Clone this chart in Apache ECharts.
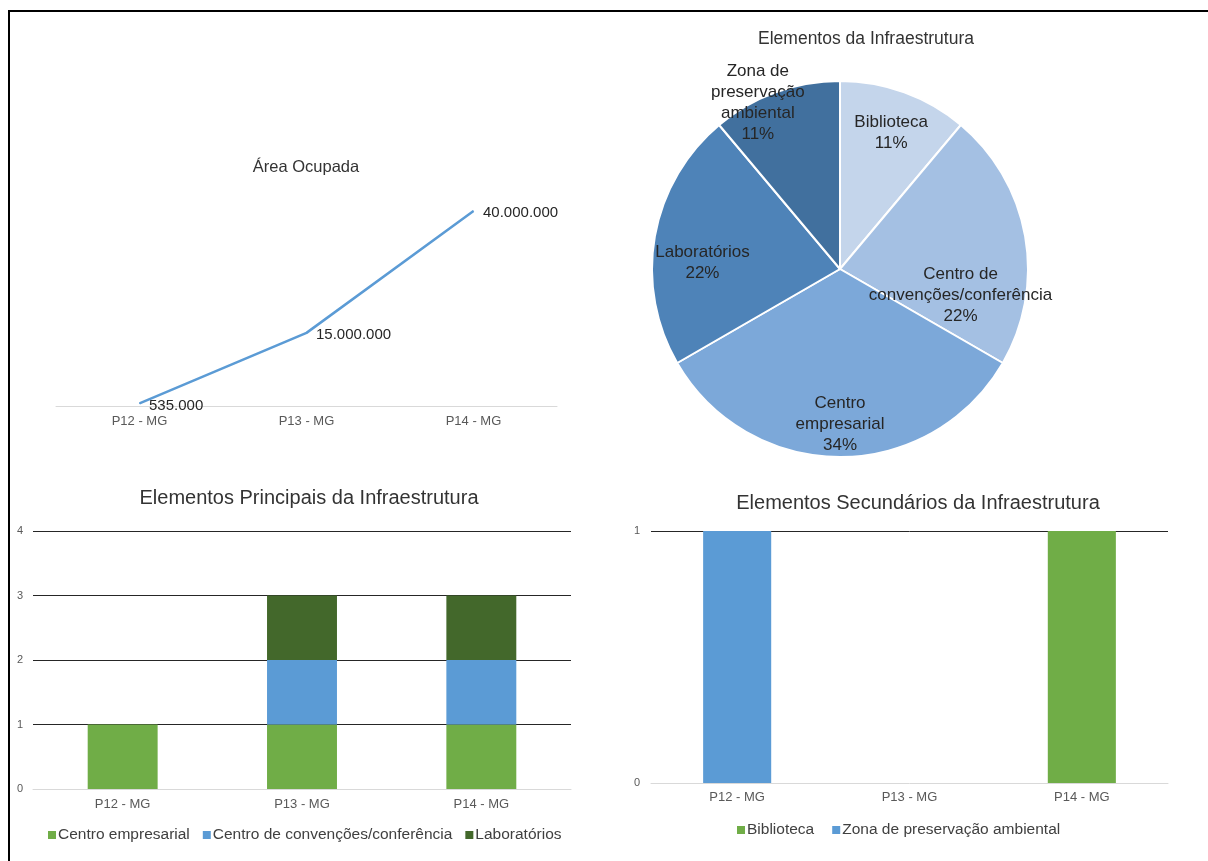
<!DOCTYPE html>
<html>
<head>
<meta charset="utf-8">
<script src="https://cdn.jsdelivr.net/npm/echarts@6/dist/echarts.min.js"></script>
<style>
  html, body { margin: 0; padding: 0; background: #fff; overflow: hidden; }
  #frame { position: absolute; left: 8px; top: 10px; width: 1400px; height: 1000px; border: 2px solid #000; box-sizing: border-box; }
  #chart { position: absolute; left: 0; top: 0; width: 1208px; height: 861px; }
</style>
</head>
<body>
<div id="frame"></div>
<div id="chart"></div>
<script>
// ---- data ----
const categories = ['P12 - MG', 'P13 - MG', 'P14 - MG'];
const areaValues = [535000, 15000000, 40000000];

const pieNames = ['Biblioteca', 'Centro de convenções/conferência', 'Centro empresarial', 'Laboratórios', 'Zona de preservação ambiental'];
const pieLabelNames = ['Biblioteca', 'Centro de\nconvenções/conferência', 'Centro\nempresarial', 'Laboratórios', 'Zona de\npreservação\nambiental'];
const pieValues = [1, 2, 3, 2, 1];

const mainSeriesNames = ['Centro empresarial', 'Centro de convenções/conferência', 'Laboratórios'];
const mainCentroEmpresarial = [1, 1, 1];
const mainConvencoes = [0, 1, 1];
const mainLaboratorios = [0, 1, 1];

const secSeriesNames = ['Biblioteca', 'Zona de preservação ambiental'];
const secBiblioteca = [0, 0, 1];
const secZona = [1, 0, 0];

// ---- styles ----
const FONT = 'Liberation Sans, Arial, sans-serif';
const pieColors = ['#C4D5EB', '#A4C0E3', '#7CA8D9', '#4E83B8', '#41709E'];
const mainColors = ['#70AD47', '#5B9BD5', '#43682B'];
const secColors = ['#70AD47', '#5B9BD5'];
const pieLabelOffsets = [[18, -45], [25, 43], [0, 58], [-42, 11], [-49, -75]];

function fmtDots(v) { return String(v).replace(/\B(?=(\d{3})+(?!\d))/g, '.'); }

const chart = echarts.init(document.getElementById('chart'), null, { renderer: 'canvas' });

const titleStyle = (size) => ({ fontFamily: FONT, fontSize: size, fontWeight: 'normal', color: '#333' });

const catAxis = (gridIndex, margin) => ({
  type: 'category', gridIndex, data: categories, boundaryGap: true,
  axisLine: { show: true, lineStyle: { color: '#D9D9D9', width: 1 } },
  axisTick: { show: false },
  axisLabel: { fontFamily: FONT, fontSize: 13, color: '#595959', margin }
});

const legendText = { fontFamily: FONT, fontSize: 15.5, color: '#404040', padding: [0, 0, 0, -3] };

const option = {
  animation: false,
  textStyle: { fontFamily: FONT },
  title: [
    { text: 'Área Ocupada', left: 301, top: 154, textAlign: 'center', textStyle: titleStyle(16.5) },
    { text: 'Elementos da Infraestrutura', left: 861, top: 25, textAlign: 'center', textStyle: titleStyle(17.5) },
    { text: 'Elementos Principais da Infraestrutura', left: 304, top: 483, textAlign: 'center', textStyle: titleStyle(20) },
    { text: 'Elementos Secundários da Infraestrutura', left: 913, top: 488, textAlign: 'center', textStyle: titleStyle(20) }
  ],
  legend: [
    { data: mainSeriesNames, left: 43, top: 822, icon: 'rect', itemWidth: 8, itemHeight: 8, itemGap: 13, textStyle: legendText },
    { data: secSeriesNames, left: 732, top: 817, icon: 'rect', itemWidth: 8, itemHeight: 8, itemGap: 18, textStyle: legendText }
  ],
  grid: [
    { left: 56, top: 211, width: 501, height: 195 },
    { left: 33, top: 531, width: 538, height: 258 },
    { left: 651, top: 531, width: 517, height: 252 }
  ],
  xAxis: [catAxis(0, 9), catAxis(1, 9), catAxis(2, 8)],
  yAxis: [
    { type: 'value', gridIndex: 0, min: 0, max: 40000000, show: false },
    {
      type: 'value', gridIndex: 1, min: 0, max: 4, interval: 1,
      axisLine: { show: false }, axisTick: { show: false },
      axisLabel: { fontFamily: FONT, fontSize: 11, color: '#595959', margin: 10 },
      splitLine: { show: true, showMinLine: false, lineStyle: { color: '#262626', width: 1 } }
    },
    {
      type: 'value', gridIndex: 2, min: 0, max: 1, interval: 1,
      axisLine: { show: false }, axisTick: { show: false },
      axisLabel: { fontFamily: FONT, fontSize: 11, color: '#595959', margin: 11 },
      splitLine: { show: true, showMinLine: false, lineStyle: { color: '#262626', width: 1 } }
    }
  ],
  series: [
    {
      type: 'line', name: 'Área Ocupada', xAxisIndex: 0, yAxisIndex: 0, data: areaValues,
      symbol: 'circle', symbolSize: 1, showSymbol: true,
      lineStyle: { color: '#5B9BD5', width: 2.5 }, itemStyle: { color: '#5B9BD5' },
      label: { show: true, position: 'right', distance: 9, offset: [0, 2], fontFamily: FONT, fontSize: 15, color: '#262626',
        formatter: p => fmtDots(p.value) }
    },
    {
      type: 'pie', name: 'Elementos da Infraestrutura', center: [840, 269], radius: 188,
      startAngle: 90, clockwise: true, percentPrecision: 0,
      data: pieNames.map((n, i) => ({ name: n, value: pieValues[i], itemStyle: { color: pieColors[i] } })),
      itemStyle: { borderColor: '#fff', borderWidth: 2 },
      label: {
        show: true, position: 'inside', fontFamily: FONT, fontSize: 17, lineHeight: 21, color: '#262626',
        formatter: p => pieLabelNames[p.dataIndex] + '\n' + p.percent + '%'
      },
      labelLine: { show: false },
      labelLayout: p => ({ dx: pieLabelOffsets[p.dataIndex][0], dy: pieLabelOffsets[p.dataIndex][1] }),
      emphasis: { disabled: true }
    },
    { type: 'bar', name: mainSeriesNames[0], xAxisIndex: 1, yAxisIndex: 1, stack: 'main', barWidth: '39%', data: mainCentroEmpresarial, itemStyle: { color: mainColors[0] } },
    { type: 'bar', name: mainSeriesNames[1], xAxisIndex: 1, yAxisIndex: 1, stack: 'main', barWidth: '39%', data: mainConvencoes, itemStyle: { color: mainColors[1] } },
    { type: 'bar', name: mainSeriesNames[2], xAxisIndex: 1, yAxisIndex: 1, stack: 'main', barWidth: '39%', data: mainLaboratorios, itemStyle: { color: mainColors[2] } },
    { type: 'bar', name: secSeriesNames[0], xAxisIndex: 2, yAxisIndex: 2, stack: 'sec', barWidth: '39.5%', data: secBiblioteca, itemStyle: { color: secColors[0] } },
    { type: 'bar', name: secSeriesNames[1], xAxisIndex: 2, yAxisIndex: 2, stack: 'sec', barWidth: '39.5%', data: secZona, itemStyle: { color: secColors[1] } }
  ]
};
chart.setOption(option);
</script>
</body>
</html>
